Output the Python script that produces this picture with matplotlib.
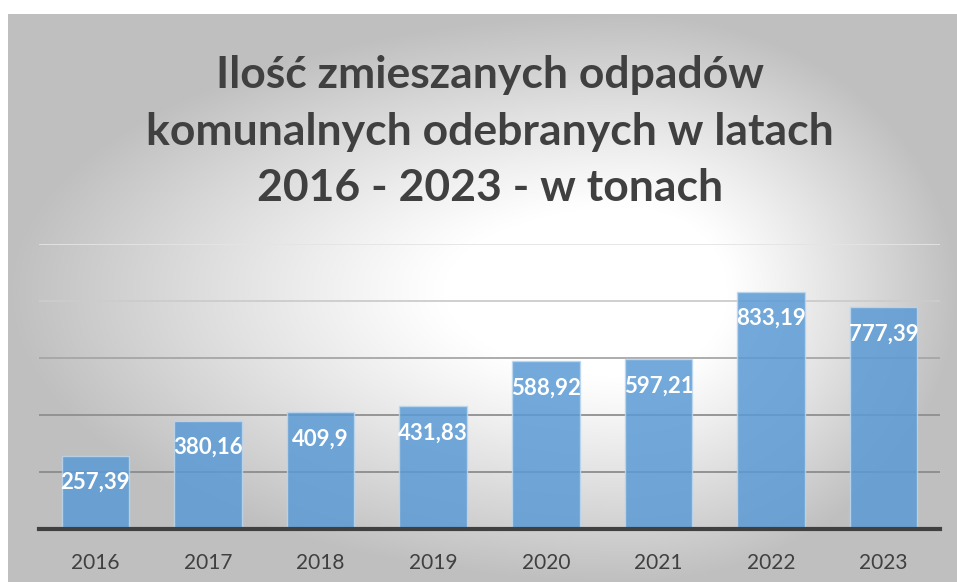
import numpy as np
import matplotlib.pyplot as plt

years = ['2016', '2017', '2018', '2019', '2020', '2021', '2022', '2023']
tons = [257.39, 380.16, 409.9, 431.83, 588.92, 597.21, 833.19, 777.39]
grid_values = [200, 400, 600, 800, 1000]
grid_colors = ['#8c8c8c', '#8f8f8f', '#a6a6a6', '#cccccc', '#e4e4e4']
title_lines = ['Ilość zmieszanych odpadów',
               'komunalnych odebranych w latach',
               '2016 - 2023 - w tonach']

plt.rcParams['font.family'] = ['Lato', 'DejaVu Sans']

W, H = 957, 582
fig = plt.figure(figsize=(W / 100, H / 100), dpi=100)
fig.patch.set_facecolor('white')

# gradient background of the chart area (light centre, grey towards every edge)
bg = fig.add_axes([8 / W, 0, (W - 8) / W, (H - 14) / H])
bg.set_axis_off()
cx, cy = 630, 290
xx, yy = np.meshgrid(np.arange(8, W), np.arange(14, H))
dx = np.where(xx < cx, (cx - xx) / (cx - 8), (xx - cx) / (W - cx))
dy = np.where(yy < cy, (cy - yy) / (cy - 14), (yy - cy) / (H - cy))
t = np.clip(np.hypot(dx, dy), 0, 1)
t = np.clip((t - 0.3) / 0.7, 0, 1) ** 1.1
shade = 1 - 0.25 * t
img = np.dstack([shade, shade, shade])
bg.imshow(img, aspect='auto', extent=[0, 1, 0, 1], origin='upper')
bg.set_xlim(0, 1)
bg.set_ylim(0, 1)

# plot area
left, right = 39, 940
base, top = 529, 244
ax = fig.add_axes([left / W, (H - base) / H, (right - left) / W, (base - top) / H])
ax.set_facecolor('none')
x = np.arange(len(years))
ax.set_xlim(-0.5, len(years) - 0.5)
ax.set_ylim(0, 1000)

for v, c in zip(grid_values, grid_colors):
    ax.axhline(v, color=c, lw=1.3, zorder=1)

bars = ax.bar(x, tons, width=0.6, color='#5b9bd5', alpha=0.85,
              edgecolor='#bdd7ee', linewidth=1.0, zorder=2)

for xi, v in zip(x, tons):
    ax.annotate(str(v).replace('.', ','), xy=(xi, v), xytext=(0, -27),
                textcoords='offset pixels', ha='center', va='center',
                color='white', fontsize=16, fontweight='bold', zorder=3)

ax.set_xticks(x)
ax.set_xticklabels(years, fontsize=15, color='#404040')
ax.tick_params(axis='x', length=0, pad=17)
ax.set_yticks([])
for s in ['top', 'left', 'right']:
    ax.spines[s].set_visible(False)
ax.spines['bottom'].set_color('#404040')
ax.spines['bottom'].set_linewidth(3)
ax.spines['bottom'].set_zorder(4)

for i, line in enumerate(title_lines):
    fig.text(490 / W, 1 - (75 + 56.5 * i) / H, line, ha='center', va='center',
             fontsize=32, fontweight='bold', color='#404040')

fig.savefig('out.png', dpi=100)
